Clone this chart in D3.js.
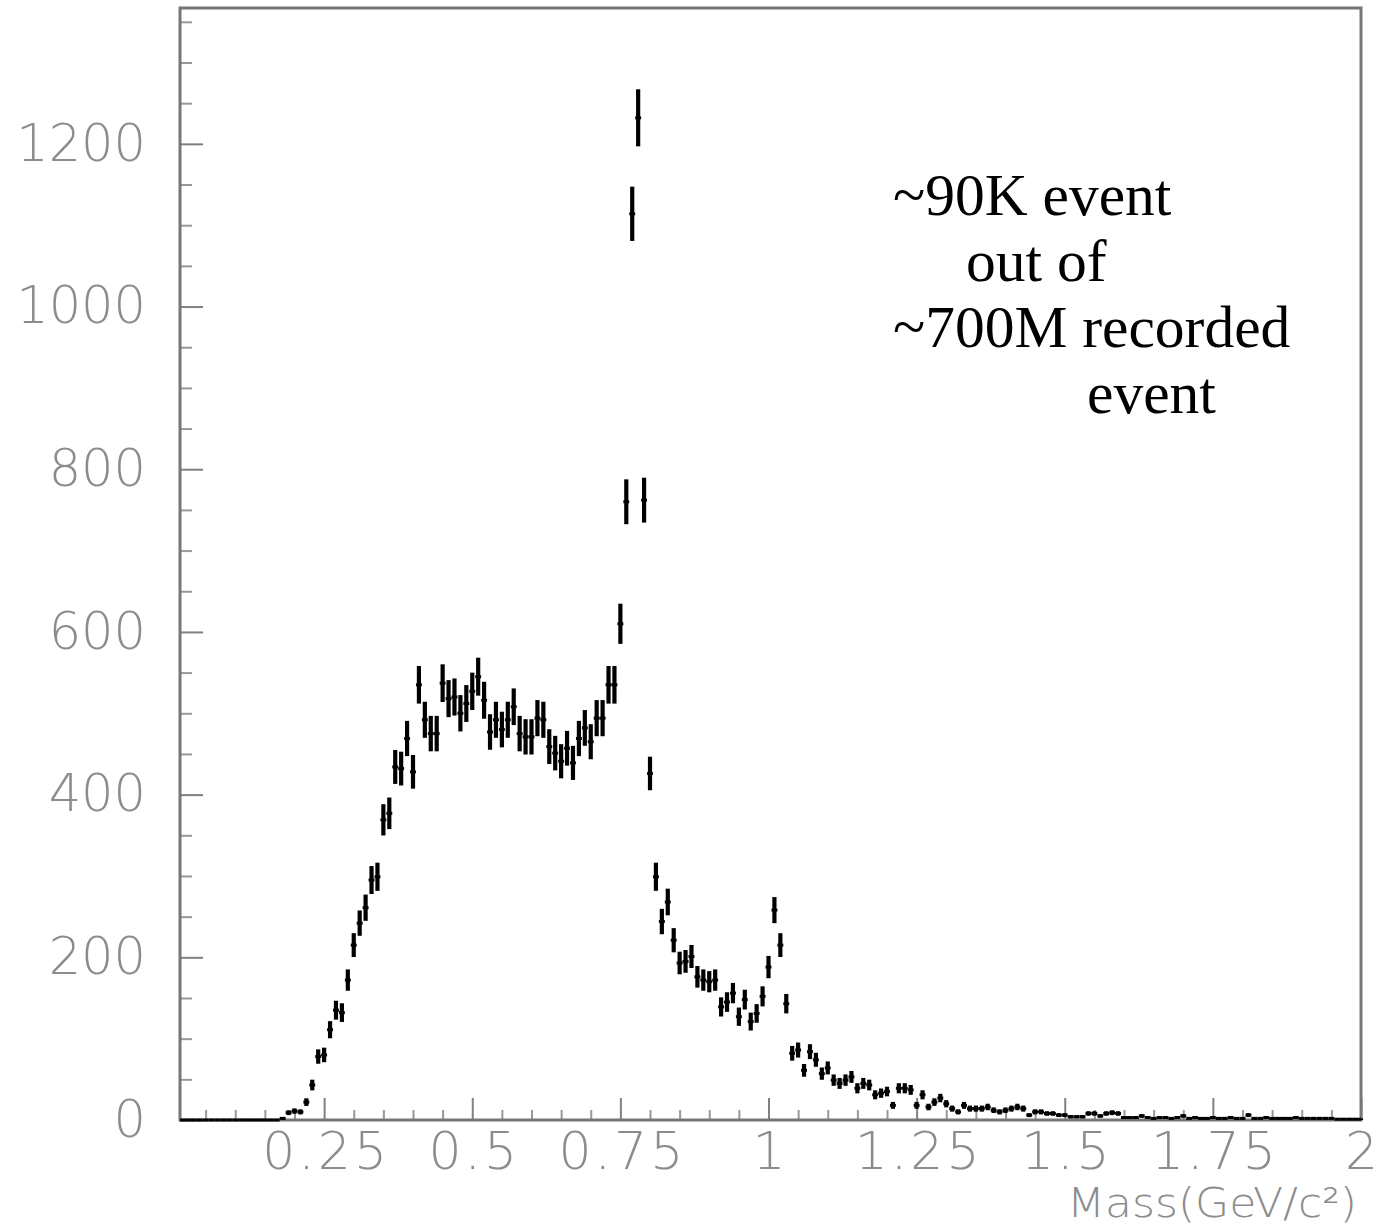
<!DOCTYPE html>
<html>
    <head>
        <title> Invariant mass spectrum </title>
        <script src="https://d3js.org/d3.v7.min.js"></script>
        <style>
            body { margin: 0; background: white; }
        </style>
    </head>

    <body>

        <div id="Histo"></div>

        <script type="text/javascript">

            // bin contents, bins of 0.01 GeV, first bin centred at 0.01
            var binWidth = 0.01;
            var counts = [
                0, 0, 0, 0, 0, 0, 0, 0, 0, 0,
                0, 0, 0, 0, 0, 0, 0, 2, 9, 11,
                10, 22, 43, 78, 80, 111, 135, 132, 172, 215,
                242, 261, 295, 299, 369, 377, 434, 432, 469, 428,
                535, 492, 475, 475, 537, 518, 520, 500, 512, 527,
                545, 516, 477, 492, 480, 492, 508, 475, 471, 471,
                494, 492, 459, 451, 441, 457, 439, 469, 482, 465,
                494, 494, 535, 535, 610, 760, 1114, 1232, 762, 426,
                299, 244, 268, 221, 193, 195, 201, 176, 172, 170,
                172, 139, 145, 156, 127, 148, 121, 131, 152, 188,
                258, 215, 143, 82, 86, 61, 84, 74, 57, 64,
                49, 45, 49, 53, 39, 45, 43, 31, 33, 35,
                18, 39, 39, 37, 18, 31, 16, 22, 27, 20,
                14, 10, 18, 14, 14, 14, 16, 12, 10, 12,
                14, 16, 14, 6, 10, 10, 8, 8, 6, 6,
                4, 4, 4, 8, 8, 5, 8, 9, 8, 3,
                3, 3, 5, 3, 2, 3, 3, 2, 3, 5,
                2, 3, 2, 2, 3, 2, 2, 3, 2, 2,
                6, 2, 2, 3, 2, 2, 2, 2, 3, 2,
                2, 2, 2, 2, 2, 1, 1, 1, 1, 1
            ];

            var xTicks = [0.25, 0.5, 0.75, 1, 1.25, 1.5, 1.75, 2];
            var xTickLabels = ["0.25", "0.5", "0.75", "1", "1.25", "1.5", "1.75", "2"];
            var yTicks = [0, 200, 400, 600, 800, 1000, 1200];
            var yTickLabels = ["0", "200", "400", "600", "800", "1000", "1200"];
            var note = ["~90K event", "out of", "~700M recorded", "event"];

            var data = counts.map(function(c, i) {
                return { mass: (i + 1) * binWidth, n: c, err: Math.sqrt(c) };
            });

            var W = 1389, H = 1228;
            var frameL = 180, frameR = 1361, frameT = 8, frameB = 1120;
            var labelFont = "'DejaVu Sans ExtraLight', 'DejaVu Sans', sans-serif";
            var labelColor = "#8c8c8c";

            var svg = d3.select("#Histo")
                .append("svg")
                .attr("width", W)
                .attr("height", H)
                .style("font-family", labelFont);

            svg.append("rect").attr("width", W).attr("height", H).attr("fill", "white");

            var x = d3.scaleLinear()
                .domain([0, 2])
                .range([176, frameR]);

            var y = d3.scaleLinear()
                .domain([0, 1367])
                .range([frameB, frameT]);

            // minor ticks
            var xMinor = d3.range(0.05, 2, 0.05).filter(function(v) { return Math.abs(v / 0.25 - Math.round(v / 0.25)) > 1e-6; });
            var yMinor = d3.range(50, 1367, 50).filter(function(v) { return v % 200 != 0; });

            svg.append("g")
                .attr("transform", "translate(0," + frameB + ")")
                .call(d3.axisBottom(x).tickValues(xMinor).tickSize(-10).tickFormat(""))
                .call(function(g) { g.select(".domain").remove(); })
                .selectAll("line").attr("stroke", "#999").attr("stroke-width", 2);

            svg.append("g")
                .attr("transform", "translate(" + frameL + ",0)")
                .call(d3.axisLeft(y).tickValues(yMinor).tickSize(-12).tickFormat(""))
                .call(function(g) { g.select(".domain").remove(); })
                .selectAll("line").attr("stroke", "#999").attr("stroke-width", 2);

            // major ticks + labels
            var xAxis = svg.append("g")
                .attr("transform", "translate(0," + frameB + ")")
                .call(d3.axisBottom(x).tickValues(xTicks).tickSize(-22).tickPadding(12)
                    .tickFormat(function(d, i) { return xTickLabels[i]; }));
            xAxis.select(".domain").remove();
            xAxis.selectAll("line").attr("stroke", "#808080").attr("stroke-width", 2);
            xAxis.selectAll("text")
                .attr("fill", labelColor)
                .attr("dx", "1.5px")
                .style("font-size", "52px")
                .style("letter-spacing", "3px")
                .style("font-family", labelFont)
                .style("font-weight", 200);

            var yAxis = svg.append("g")
                .attr("transform", "translate(" + frameL + ",0)")
                .call(d3.axisLeft(y).tickValues(yTicks).tickSize(-23).tickPadding(34)
                    .tickFormat(function(d, i) { return yTickLabels[i]; }));
            yAxis.select(".domain").remove();
            yAxis.selectAll("line").attr("stroke", "#808080").attr("stroke-width", 2);
            yAxis.selectAll("text")
                .attr("fill", labelColor)
                .style("font-size", "51px")
                .style("font-family", labelFont)
                .style("font-weight", 200);

            // frame
            svg.append("rect")
                .attr("x", frameL)
                .attr("y", frameT)
                .attr("width", frameR - frameL)
                .attr("height", frameB - frameT)
                .attr("fill", "none")
                .attr("stroke", "#777")
                .attr("stroke-width", 3);

            // points with error bars
            var pts = svg.append("g");

            pts.selectAll(".hbar")
                .data(data)
                .enter()
                .append("line")
                .attr("x1", function(d) { return Math.max(frameL, x(d.mass - binWidth / 2)); })
                .attr("x2", function(d) { return Math.min(frameR, x(d.mass + binWidth / 2)); })
                .attr("y1", function(d) { return y(d.n); })
                .attr("y2", function(d) { return y(d.n); })
                .attr("stroke", "black")
                .attr("stroke-width", 3);

            pts.selectAll(".vbar")
                .data(data.filter(function(d) { return d.n > 0; }))
                .enter()
                .append("line")
                .attr("x1", function(d) { return x(d.mass); })
                .attr("x2", function(d) { return x(d.mass); })
                .attr("y1", function(d) { return y(Math.max(0, d.n - d.err)); })
                .attr("y2", function(d) { return y(d.n + d.err); })
                .attr("stroke", "black")
                .attr("stroke-width", 4.2);

            // axis title
            svg.append("text")
                .attr("x", 1357)
                .attr("y", 1217)
                .attr("text-anchor", "end")
                .attr("fill", labelColor)
                .style("font-size", "40px")
                .style("font-weight", 200)
                .attr("textLength", 290)
                .attr("lengthAdjust", "spacingAndGlyphs")
                .text("Mass(GeV/c²)");

            // annotation
            var noteX = [893, 966, 893, 1087];
            var noteY = [215, 281, 347, 413];
            svg.selectAll(".note")
                .data(note)
                .enter()
                .append("text")
                .attr("x", function(d, i) { return noteX[i]; })
                .attr("y", function(d, i) { return noteY[i]; })
                .style("font-family", "'Liberation Serif', 'Times New Roman', serif")
                .style("font-size", "59.5px")
                .attr("fill", "black")
                .text(function(d) { return d; });

        </script>
    </body>
</html>
